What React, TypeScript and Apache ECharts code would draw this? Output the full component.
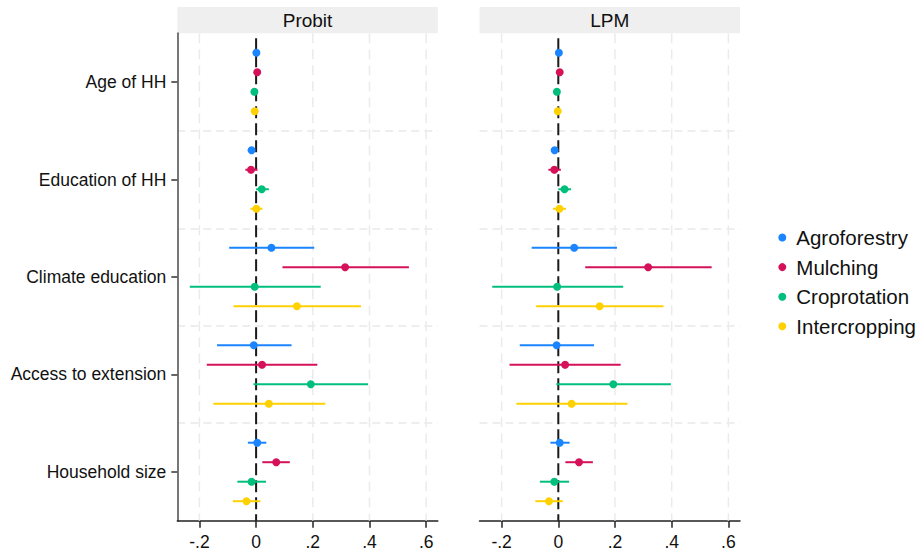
import React, { useEffect, useRef } from "react";
import * as echarts from "echarts";

const PANELS = ["Probit", "LPM"];
const CATEGORIES = ["Age of HH", "Education of HH", "Climate education", "Access to extension", "Household size"];
const TECHNIQUES = ["Agroforestry", "Mulching", "Croprotation", "Intercropping"];
const COLORS = ["#1A85FF", "#D41159", "#00BF7D", "#FFD100"];
const X_TICKS = [-0.2, 0, 0.2, 0.4, 0.6];
const X_MIN = -0.278;
const X_MAX = 0.641;

// Probit: point estimates and 95% CI bounds, one array per technique (order of CATEGORIES)
const PROBIT_AGRO_COEF = [0.001, -0.016, 0.054, -0.008, 0.004];
const PROBIT_AGRO_LO = [-0.002, -0.024, -0.095, -0.138, -0.029];
const PROBIT_AGRO_HI = [0.004, -0.008, 0.205, 0.125, 0.036];
const PROBIT_MULCH_COEF = [0.004, -0.018, 0.314, 0.021, 0.071];
const PROBIT_MULCH_LO = [0.001, -0.038, 0.093, -0.174, 0.022];
const PROBIT_MULCH_HI = [0.007, 0.005, 0.539, 0.216, 0.119];
const PROBIT_CROP_COEF = [-0.006, 0.02, -0.005, 0.193, -0.016];
const PROBIT_CROP_LO = [-0.009, 0.0, -0.234, -0.009, -0.066];
const PROBIT_CROP_HI = [-0.003, 0.045, 0.228, 0.395, 0.035];
const PROBIT_INTER_COEF = [-0.005, 0.001, 0.144, 0.045, -0.034];
const PROBIT_INTER_LO = [-0.008, -0.02, -0.08, -0.151, -0.082];
const PROBIT_INTER_HI = [-0.002, 0.022, 0.37, 0.244, 0.015];

// LPM
const LPM_AGRO_COEF = [0.002, -0.013, 0.056, -0.006, 0.005];
const LPM_AGRO_LO = [-0.001, -0.02, -0.094, -0.136, -0.028];
const LPM_AGRO_HI = [0.005, -0.006, 0.207, 0.126, 0.04];
const LPM_MULCH_COEF = [0.005, -0.014, 0.317, 0.024, 0.073];
const LPM_MULCH_LO = [0.002, -0.035, 0.095, -0.172, 0.025];
const LPM_MULCH_HI = [0.008, 0.009, 0.541, 0.22, 0.122];
const LPM_CROP_COEF = [-0.005, 0.022, -0.004, 0.194, -0.014];
const LPM_CROP_LO = [-0.008, 0.0, -0.233, -0.007, -0.065];
const LPM_CROP_HI = [-0.002, 0.045, 0.229, 0.397, 0.038];
const LPM_INTER_COEF = [-0.002, 0.004, 0.146, 0.047, -0.033];
const LPM_INTER_LO = [-0.005, -0.019, -0.078, -0.148, -0.081];
const LPM_INTER_HI = [0.001, 0.027, 0.371, 0.244, 0.016];

const MODEL_DATA = [
  [
    [PROBIT_AGRO_COEF, PROBIT_AGRO_LO, PROBIT_AGRO_HI],
    [PROBIT_MULCH_COEF, PROBIT_MULCH_LO, PROBIT_MULCH_HI],
    [PROBIT_CROP_COEF, PROBIT_CROP_LO, PROBIT_CROP_HI],
    [PROBIT_INTER_COEF, PROBIT_INTER_LO, PROBIT_INTER_HI],
  ],
  [
    [LPM_AGRO_COEF, LPM_AGRO_LO, LPM_AGRO_HI],
    [LPM_MULCH_COEF, LPM_MULCH_LO, LPM_MULCH_HI],
    [LPM_CROP_COEF, LPM_CROP_LO, LPM_CROP_HI],
    [LPM_INTER_COEF, LPM_INTER_LO, LPM_INTER_HI],
  ],
];

const FONT = "'Liberation Sans', Arial, Helvetica, sans-serif";
const GRID_TOP = 33.3;
const GRID_H = 487.4;
const GRID_W = 260.5;
const GRID_LEFTS = [177.3, 479.5];
const SLOTS = CATEGORIES.length * 5;

const fmtTick = (v: number) => {
  if (Math.abs(v) < 1e-9) return "0";
  const s = Math.round(Math.abs(v) * 10);
  return (v < 0 ? "-" : "") + "." + s;
};

export default function App() {
  const ref = useRef<HTMLDivElement>(null);
  useEffect(() => {
    if (!ref.current) return;
    const chart = echarts.init(ref.current, null, { renderer: "svg" });

    const grids = GRID_LEFTS.map((left) => ({
      left,
      top: GRID_TOP,
      width: GRID_W,
      height: GRID_H,
      containLabel: false,
      outerBoundsMode: "none",
    }));

    const xAxes = PANELS.map((_, p) => ({
      type: "value",
      gridIndex: p,
      min: X_MIN,
      max: X_MAX,
      axisLine: { show: true, onZero: false, lineStyle: { color: "#222", width: 1.5 } },
      axisTick: { show: true, customValues: X_TICKS, length: 7, lineStyle: { color: "#222", width: 1.5 } },
      axisLabel: {
        show: true,
        customValues: X_TICKS,
        formatter: (v: number) => fmtTick(v),
        fontSize: 17.5,
        color: "#111",
        margin: 12,
        fontFamily: FONT,
      },
      splitLine: { show: false },
    }));

    const yAxes: any[] = [];
    PANELS.forEach((_, p) => {
      yAxes.push({
        type: "category",
        gridIndex: p,
        data: CATEGORIES,
        inverse: true,
        axisLine: { show: p === 0, onZero: false, lineStyle: { color: "#777", width: 2 } },
        axisTick: { show: p === 0, alignWithLabel: true, length: 6, lineStyle: { color: "#333", width: 1.5 } },
        axisLabel: { show: p === 0, fontSize: 17.5, color: "#111", margin: 11, fontFamily: FONT },
        splitLine: {
          show: true,
          showMinLine: false,
          showMaxLine: false,
          lineStyle: { color: "#e9e9e9", width: 1.5, type: [8, 5] },
        },
      });
      yAxes.push({
        type: "value",
        gridIndex: p,
        min: 0,
        max: SLOTS,
        inverse: true,
        show: false,
        axisLine: { onZero: false },
      });
    });

    const series: any[] = [];
    PANELS.forEach((_, p) => {
      // vertical reference grid lines and zero line
      series.push({
        type: "custom",
        xAxisIndex: p,
        yAxisIndex: p * 2 + 1,
        silent: true,
        z: 1,
        data: X_TICKS.map((v) => [v, 0, SLOTS]),
        encode: { x: 0, y: [1, 2] },
        renderItem: (params: any, api: any) => {
          const v = api.value(0);
          const a = api.coord([v, api.value(1)]);
          const b = api.coord([v, api.value(2)]);
          const isZero = Math.abs(v) < 1e-9;
          return {
            type: "line",
            z2: isZero ? 5 : 1,
            shape: { x1: a[0], y1: a[1] + (isZero ? 5 : 0), x2: b[0], y2: b[1] },
            style: isZero
              ? { stroke: "#1a1a1a", lineWidth: 2, lineDash: [12, 5] }
              : { stroke: "#ebebeb", lineWidth: 1.5, lineDash: [10, 6] },
          };
        },
      });
    });

    PANELS.forEach((_, p) => {
      TECHNIQUES.forEach((name, t) => {
        const [coef] = MODEL_DATA[p][t];
        series.push({
          type: "scatter",
          name,
          xAxisIndex: p,
          yAxisIndex: p * 2 + 1,
          symbol: "circle",
          symbolSize: 8,
          z: 4,
          itemStyle: { color: COLORS[t], opacity: 1 },
          emphasis: { disabled: true },
          data: CATEGORIES.map((_, i) => [coef[i], i * 5 + t + 1]),
        });
      });
    });

    PANELS.forEach((_, p) => {
      TECHNIQUES.forEach((name, t) => {
        const [, lo, hi] = MODEL_DATA[p][t];
        series.push({
          type: "custom",
          name,
          xAxisIndex: p,
          yAxisIndex: p * 2 + 1,
          z: 3,
          silent: true,
          itemStyle: { color: COLORS[t] },
          data: CATEGORIES.map((_, i) => [lo[i], hi[i], i * 5 + t + 1]),
          encode: { x: [0, 1], y: 2 },
          renderItem: (params: any, api: any) => {
            const a = api.coord([api.value(0), api.value(2)]);
            const b = api.coord([api.value(1), api.value(2)]);
            return {
              type: "line",
              shape: { x1: a[0], y1: a[1], x2: b[0], y2: b[1] },
              style: { stroke: COLORS[t], lineWidth: 2 },
            };
          },
        });
      });
    });

    const graphic: any[] = [];
    PANELS.forEach((title, p) => {
      graphic.push({
        type: "rect",
        shape: { x: GRID_LEFTS[p], y: 7, width: GRID_W, height: 26.3 },
        style: { fill: "#efefef" },
        silent: true,
      });
      graphic.push({
        type: "text",
        x: GRID_LEFTS[p] + GRID_W / 2,
        y: 20.5,
        style: {
          text: title,
          fontSize: 19,
          fill: "#111",
          align: "center",
          verticalAlign: "middle",
          fontFamily: FONT,
        },
        silent: true,
      });
    });

    chart.setOption({
      animation: false,
      backgroundColor: "#ffffff",
      textStyle: { fontFamily: FONT },
      grid: grids,
      xAxis: xAxes,
      yAxis: yAxes,
      legend: {
        orient: "vertical",
        left: 773.3,
        top: 222,
        icon: "circle",
        itemWidth: 18,
        itemHeight: 8,
        itemGap: 8.6,
        selectedMode: false,
        data: TECHNIQUES,
        textStyle: { fontSize: 20.5, color: "#111", lineHeight: 20, fontFamily: FONT },
      },
      graphic,
      series,
    });

    return () => chart.dispose();
  }, []);

  return (
    <div
      ref={ref}
      style={{ position: "fixed", left: 0, top: 0, width: 920, height: 554, background: "#fff" }}
    />
  );
}
